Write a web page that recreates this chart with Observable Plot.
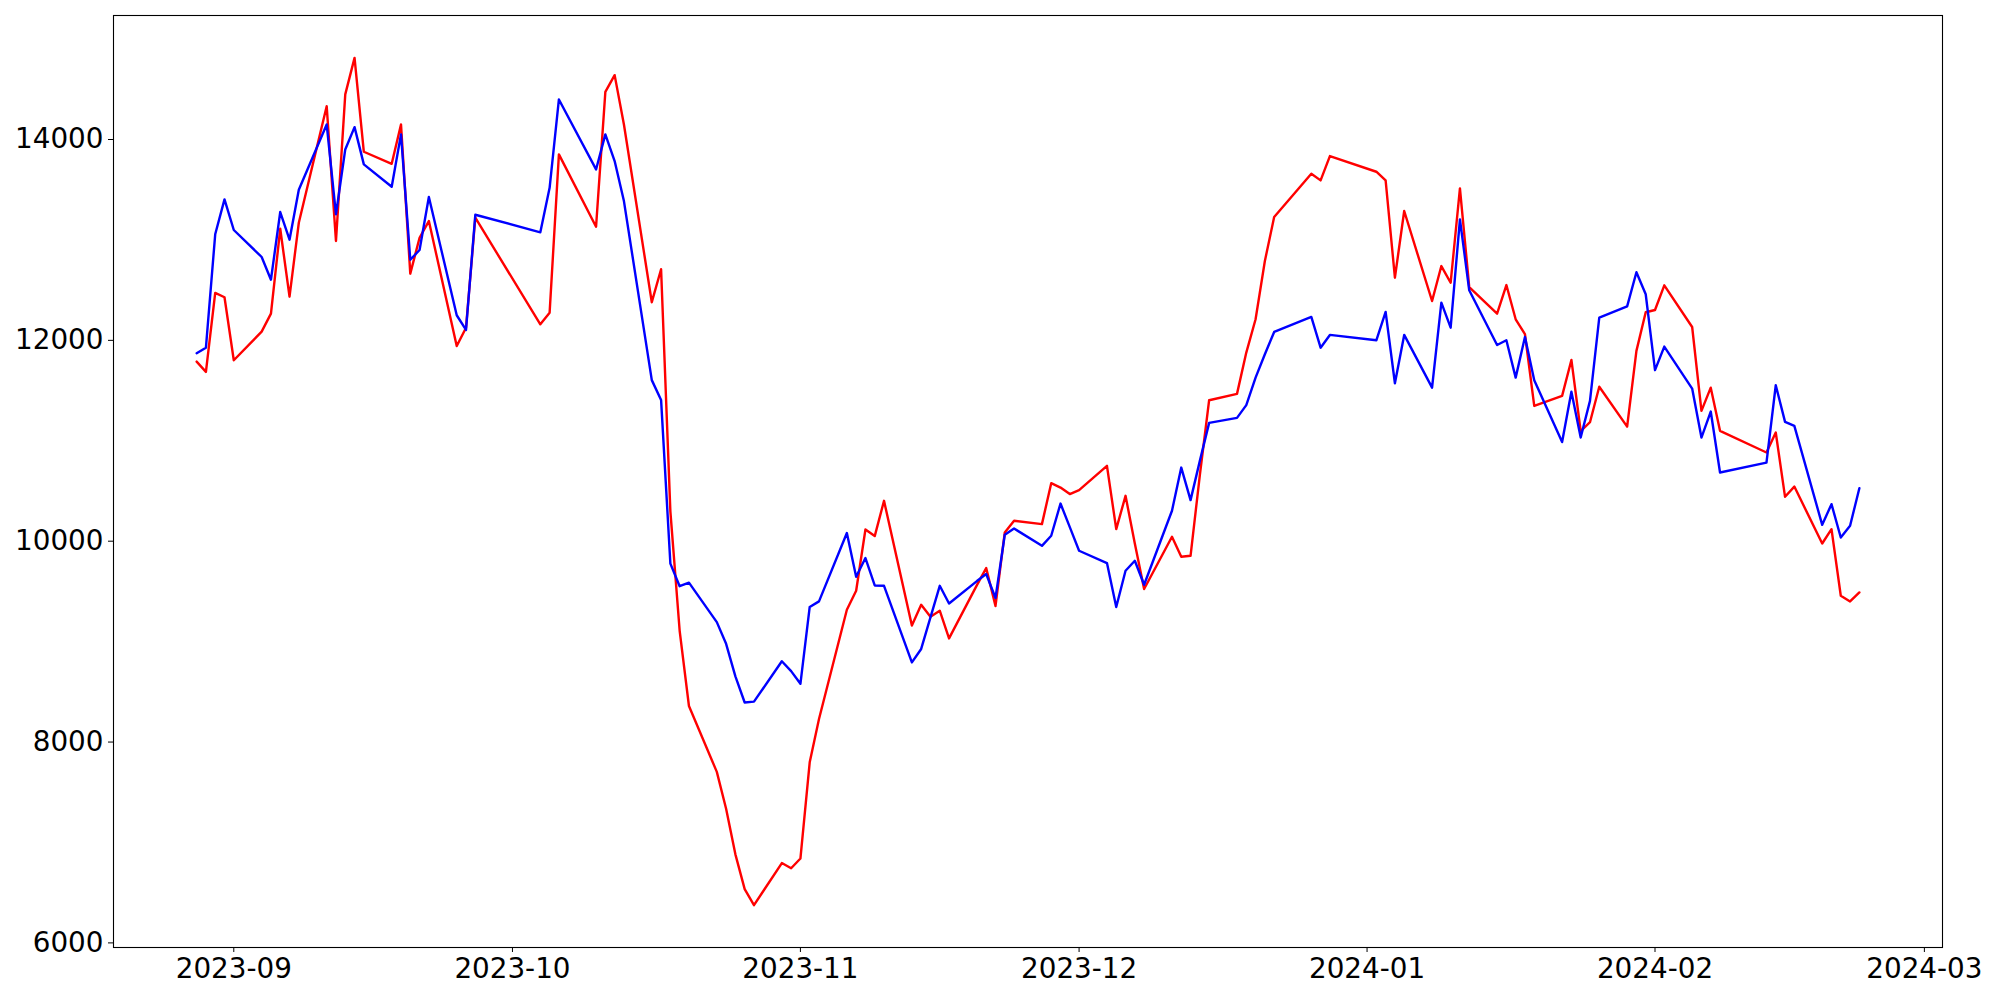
<!DOCTYPE html>
<html><head><meta charset="utf-8">
<script src="https://cdn.jsdelivr.net/npm/d3@7"></script>
<script src="https://cdn.jsdelivr.net/npm/@observablehq/plot@0.6"></script>
<style>html,body{margin:0;padding:0;background:#fff} svg{font-family:"DejaVu Sans";display:block}</style>
</head><body><div id="chart"></div>
<script>
const dates = [
"2023-08-28","2023-08-29","2023-08-30","2023-08-31","2023-09-01",
"2023-09-04","2023-09-05","2023-09-06","2023-09-07","2023-09-08",
"2023-09-11","2023-09-12","2023-09-13","2023-09-14","2023-09-15",
"2023-09-18","2023-09-19","2023-09-20","2023-09-21","2023-09-22",
"2023-09-25","2023-09-26","2023-09-27",
"2023-10-04","2023-10-05","2023-10-06",
"2023-10-10","2023-10-11","2023-10-12","2023-10-13",
"2023-10-16","2023-10-17","2023-10-18","2023-10-19","2023-10-20",
"2023-10-23","2023-10-24","2023-10-25","2023-10-26","2023-10-27",
"2023-10-30","2023-10-31","2023-11-01","2023-11-02","2023-11-03",
"2023-11-06","2023-11-07","2023-11-08","2023-11-09","2023-11-10",
"2023-11-13","2023-11-14","2023-11-15","2023-11-16","2023-11-17",
"2023-11-20","2023-11-21","2023-11-22","2023-11-23","2023-11-24",
"2023-11-27","2023-11-28","2023-11-29","2023-11-30","2023-12-01",
"2023-12-04","2023-12-05","2023-12-06","2023-12-07","2023-12-08",
"2023-12-11","2023-12-12","2023-12-13","2023-12-14","2023-12-15",
"2023-12-18","2023-12-19","2023-12-20","2023-12-21","2023-12-22",
"2023-12-26","2023-12-27","2023-12-28",
"2024-01-02","2024-01-03","2024-01-04","2024-01-05",
"2024-01-08","2024-01-09","2024-01-10","2024-01-11","2024-01-12",
"2024-01-15","2024-01-16","2024-01-17","2024-01-18","2024-01-19",
"2024-01-22","2024-01-23","2024-01-24","2024-01-25","2024-01-26",
"2024-01-29","2024-01-30","2024-01-31","2024-02-01","2024-02-02",
"2024-02-05","2024-02-06","2024-02-07","2024-02-08",
"2024-02-13","2024-02-14","2024-02-15","2024-02-16",
"2024-02-19","2024-02-20","2024-02-21","2024-02-22","2024-02-23"
];

const redValues = [
11788,11686,12472,12429,11802,
12087,12266,13111,12435,13171,
14332,12989,14449,14813,13878,
13758,14150,12664,13022,13188,
11944,12126,13221,
12160,12276,13852,
13131,14475,14641,14150,
12380,12708,10297,9108,8359,
7703,7335,6882,6535,6376,
6795,6743,6840,7798,8230,
9318,9507,10117,10051,10402,
9161,9367,9248,9308,9032,
9563,9732,9354,10087,10203,
10170,10578,10534,10469,10509,
10750,10120,10452,9977,9524,
10044,9845,9855,10658,11404,
11467,11878,12210,12790,13228,
13659,13593,13835,
13679,13593,12624,13288,
12392,12740,12574,13513,12531,
12266,12551,12210,12061,11347,
11447,11805,11095,11185,11538,
11141,11895,12280,12302,12548,
12133,11298,11529,11099,
10883,11082,10442,10544,
9977,10120,9457,9400,9490
];

const blueValues = [
11872,11927,13056,13404,13099,
12830,12604,13278,13002,13500,
14150,13255,13901,14123,13752,
13529,14051,12803,12900,13427,
12250,12104,13251,
13076,13519,14399,
13702,14051,13785,13387,
11604,11407,9777,9552,9587,
9194,8978,8654,8394,8402,
8805,8706,8580,9345,9401,
10081,9646,9832,9559,9556,
8793,8927,9241,9556,9380,
9603,9673,9434,10064,10126,
9954,10054,10375,10140,9905,
9782,9345,9706,9805,9566,
10303,10733,10409,10800,11178,
11228,11355,11629,11862,12084,
12233,11927,12054,
12001,12283,11573,12054,
11529,12375,12126,13205,12499,
11954,12001,11629,12034,11603,
10987,11488,11032,11397,12226,
12338,12678,12459,11703,11938,
11520,11032,11291,10684,
10783,11553,11188,11148,
10163,10369,10037,10153,10528
];

const xTickDates = ["2023-09-01","2023-10-01","2023-11-01","2023-12-01","2024-01-01","2024-02-01","2024-03-01"];
const yTicks = [6000, 8000, 10000, 12000, 14000];

const parse = d3.utcParse("%Y-%m-%d");
const rows = dates.map((d, i) => ({date: parse(d), red: redValues[i], blue: blueValues[i]}));

// matplotlib-style 5% auto margins
const t0 = +rows[0].date, t1 = +rows[rows.length - 1].date;
const tPad = (t1 - t0) * 0.05;
const allV = redValues.concat(blueValues);
const vMin = d3.min(allV), vMax = d3.max(allV);
const vPad = (vMax - vMin) * 0.05;

const chart = Plot.plot({
  width: 2000,
  height: 1000,
  marginLeft: 113,
  marginRight: 58,
  marginTop: 15,
  marginBottom: 53,
  style: {fontFamily: "DejaVu Sans", fontSize: "27.8px", color: "black", background: "white"},
  x: {
    type: "utc",
    domain: [new Date(t0 - tPad), new Date(t1 + tPad)],
    ticks: xTickDates.map(parse),
    tickFormat: d3.utcFormat("%Y-%m"),
    tickSize: 5,
    tickPadding: 6,
    label: null
  },
  y: {
    domain: [vMin - vPad, vMax + vPad],
    ticks: yTicks,
    tickFormat: d => String(d),
    tickSize: 5,
    tickPadding: 5,
    label: null
  },
  marks: [
    Plot.lineY(rows, {x: "date", y: "red", stroke: "#ff0000", strokeWidth: 2.4}),
    Plot.lineY(rows, {x: "date", y: "blue", stroke: "#0000ff", strokeWidth: 2.4}),
    Plot.frame({stroke: "black", strokeWidth: 1.1})
  ]
});
document.getElementById("chart").appendChild(chart);
</script>
</body></html>
